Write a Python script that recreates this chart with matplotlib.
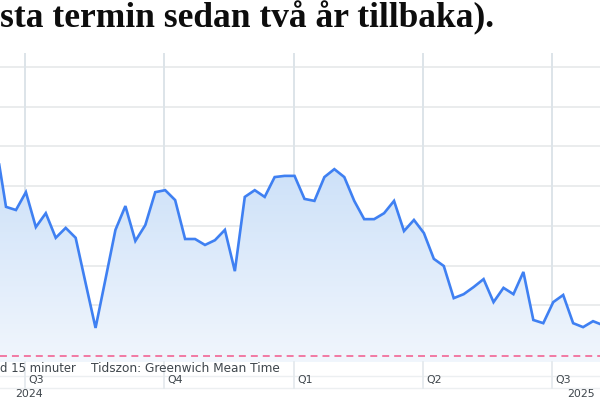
import numpy as np
import matplotlib
matplotlib.use('Agg')
import matplotlib.pyplot as plt
from matplotlib.transforms import blended_transform_factory
from matplotlib.lines import Line2D
from matplotlib.patches import Polygon

plt.rcParams['lines.scale_dashes'] = False

# ---- data (weekly index, relative level) ----
weeks = list(range(-1, 61))
values = [5.04, 3.48, 3.40, 3.85, 2.97, 3.32, 2.70, 2.95, 2.70, 1.56,
          0.43, 1.66, 2.90, 3.50, 2.62, 3.02, 3.85, 3.90, 3.65, 2.67,
          2.67, 2.52, 2.64, 2.90, 1.86, 3.73, 3.90, 3.73, 4.23, 4.26,
          4.26, 3.68, 3.63, 4.23, 4.43, 4.23, 3.63, 3.17, 3.17, 3.32,
          3.63, 2.87, 3.15, 2.82, 2.17, 1.99, 1.18, 1.28, 1.46, 1.66,
          1.08, 1.44, 1.28, 1.84, 0.63, 0.55, 1.08, 1.26, 0.55, 0.45,
          0.60, 0.50]
reference_level = -0.277
quarter_pos = [1.91, 15.88, 28.94, 41.91, 54.87]
quarter_labels = ['Q3', 'Q4', 'Q1', 'Q2', 'Q3']
year_pos = [0.90, 56.38]
year_labels = ['2024', '2025']
title_text = 'sta termin sedan två år tillbaka).'
footer_left = 'd 15 minuter'
footer_tz = 'Tidszon: Greenwich Mean Time'

W, H = 600, 400
fig = plt.figure(figsize=(6, 4), dpi=100)
fig.patch.set_facecolor('white')

def fy(px):
    return 1 - px / H

ax_top, ax_bot = 53, 362
ax = fig.add_axes([0, fy(ax_bot), 1, (ax_bot - ax_top) / H])
ax.set_xlim(-0.603, 59.70)
ax.set_ylim(-0.428, 7.355)
for s in ax.spines.values():
    s.set_visible(False)
ax.set_xticks([])
ax.set_yticks([])

# gridlines
for v in range(0, 8):
    ax.axhline(v, color='#e8eaec', lw=1.3, zorder=1)
for q in quarter_pos:
    ax.axvline(q, color='#dde4e9', lw=1.4, zorder=1)

# gradient fill under line
x = np.array(weeks, dtype=float)
y = np.array(values)
ybase = -0.428
poly = Polygon(np.column_stack([np.r_[x[0], x, x[-1]], np.r_[ybase, y, ybase]]),
               closed=True, facecolor='none', edgecolor='none')
ax.add_patch(poly)
grad = np.linspace(0, 1, 256).reshape(-1, 1)
top_c = np.array([0.80, 0.88, 0.975])
bot_c = np.array([0.945, 0.965, 0.99])
img = top_c * (1 - grad[..., None]) + bot_c * grad[..., None]
img = img.reshape(256, 1, 3)
im = ax.imshow(img, extent=[-0.603, 59.70, ybase, 4.6], origin='upper',
               aspect='auto', zorder=2)
im.set_clip_path(poly)

ax.plot(x, y, color='#3f80f2', lw=1.9, zorder=4, solid_joinstyle='miter',
        solid_capstyle='butt')
ax.axhline(reference_level, color='#f26494', lw=1.2, dashes=(5, 3.6), zorder=3)

# axis area lines (figure coords)
for ypx in [376, 388]:
    fig.add_artist(Line2D([0, 1], [fy(ypx), fy(ypx)], transform=fig.transFigure,
                          color='#eceff1', lw=1.0))
bt = blended_transform_factory(ax.transData, fig.transFigure)
for q in quarter_pos:
    fig.add_artist(Line2D([q, q], [fy(ax_bot), fy(388)], transform=bt,
                          color='#e3e8ec', lw=1.2))

tcol = '#3f464c'
fig.text(0, fy(368), footer_left, ha='left', va='center', fontsize=8.4,
         color=tcol, family='DejaVu Sans')
fig.text(91 / W, fy(368), footer_tz, ha='left', va='center', fontsize=8.7,
         color=tcol, family='DejaVu Sans')
for q, lab in zip(quarter_pos, quarter_labels):
    fig.text(q + 0.3, fy(380.3), lab, transform=bt, ha='left', va='center',
             fontsize=7.9, color=tcol, family='DejaVu Sans')
for p, lab in zip(year_pos, year_labels):
    fig.text(p, fy(393.7), lab, transform=bt, ha='left', va='center',
             fontsize=7.9, color=tcol, family='DejaVu Sans')

# title, fitted to width
t = fig.text(0, fy(27), title_text, ha='left', va='baseline', fontsize=24,
             fontweight='bold', family='Liberation Serif', color='#0d0d0d')
fig.canvas.draw()
bb = t.get_window_extent()
t.set_fontsize(24 * 494 / bb.width)

fig.savefig('out.png', dpi=100, facecolor='white')
